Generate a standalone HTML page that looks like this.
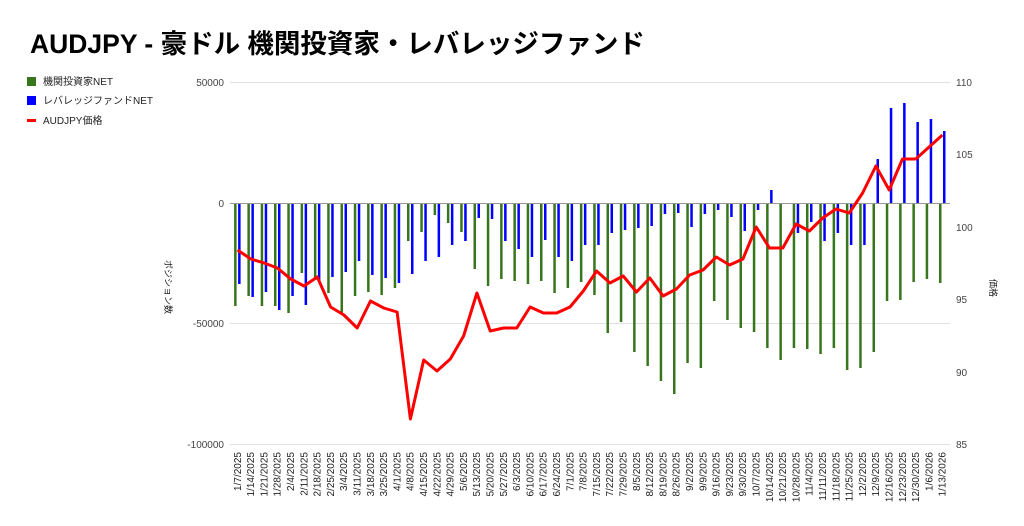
<!DOCTYPE html>
<html><head><meta charset="utf-8"><style>
body{margin:0;background:#fff;width:1024px;height:526px;overflow:hidden}
svg{display:block}
text{font-family:"Liberation Sans","Noto Sans CJK JP",sans-serif}
</style></head><body>
<svg id="s" width="1024" height="526" xmlns="http://www.w3.org/2000/svg">
<text x="30" y="53" font-size="26.5" font-weight="bold" fill="#000">AUDJPY - 豪ドル 機関投資家・レバレッジファンド</text>
<rect x="27" y="77" width="9" height="9" fill="#38761d"/><text x="43" y="85" font-size="10" fill="#222">機関投資家NET</text>
<rect x="27" y="96" width="9" height="9" fill="#0000ff"/><text x="43" y="104" font-size="10" fill="#222">レバレッジファンドNET</text>
<rect x="27" y="119" width="9" height="3" fill="#ff0000"/><text x="43" y="124" font-size="10" fill="#222">AUDJPY価格</text>
<g stroke="#e0e0e0" stroke-width="1">
<line x1="230" x2="950" y1="82.5" y2="82.5"/><line x1="230" x2="950" y1="323.5" y2="323.5"/><line x1="230" x2="950" y1="444.5" y2="444.5"/>
</g>
<g font-size="10" fill="#444" text-anchor="end">
<text x="224" y="86">50000</text><text x="224" y="207">0</text><text x="224" y="327">-50000</text><text x="224" y="448">-100000</text>
</g>
<g font-size="10" fill="#444">
<text x="956" y="86">110</text><text x="956" y="158">105</text><text x="956" y="231">100</text><text x="956" y="303">95</text><text x="956" y="376">90</text><text x="956" y="448">85</text>
</g>
<text transform="translate(165,287) rotate(90)" font-size="9" fill="#222" text-anchor="middle">ポジション数</text>
<text transform="translate(990,288) rotate(90)" font-size="9" fill="#222" text-anchor="middle">価格</text>
<g id="bars"></g>
<line x1="230" x2="950" y1="203.5" y2="203.5" stroke="#999" stroke-width="1"/>
<polyline id="red" fill="none" stroke="#ff0000" stroke-width="3" stroke-linejoin="round"/>
<g id="lab" font-size="10" fill="#222" text-anchor="end"></g>
</svg>
<script>
var g=[306,296,306,306,313,273,280,293,313,296,292,295,288,241,232,215,223,232,269,286,279,281,284,281,293,288,282,295,333,322,352,366,381,394,363,368,301,320,328,332,348,360,348,349,354,348,370,368,352,301,300,282,279,283];
var b=[284,297,292,310,296,305,280,277,272,261,275,278,283,274,261,257,245,241,218,219,241,249,257,240,257,261,245,245,233,230,228,226,214,213,227,214,210,217,231,210,190,203,233,222,241,233,245,245,159,108,103,122,119,131];
var r=[250,259,263,268,279,286,277,307,315,328,301,308,312,419,360,371,359,336,293,331,328,328,307,313,313,307,291,271,283,276,292,278,296,289,275,270,257,265,259,227,248,248,224,231,218,209,213,193,166,190,159,159,147,135];
var ns="http://www.w3.org/2000/svg",bars=document.getElementById("bars"),lab=document.getElementById("lab");
var d0=new Date(2025,0,7),pts=[];
for(var i=0;i<54;i++){
 var x=235.3+13.3*i;
 var l=document.createElementNS(ns,"rect");l.setAttribute("x",x-1.2);l.setAttribute("width",2.5);
 l.setAttribute("y",Math.min(g[i],203));l.setAttribute("height",Math.abs(g[i]-203));l.setAttribute("fill","#38761d");bars.appendChild(l);
 l=document.createElementNS(ns,"rect");l.setAttribute("x",x+2.8);l.setAttribute("width",2.5);
 l.setAttribute("y",Math.min(b[i],203));l.setAttribute("height",Math.abs(b[i]-203));l.setAttribute("fill","#0000ff");bars.appendChild(l);
 pts.push((x+2.2).toFixed(1)+","+r[i]);
 var d=new Date(d0.getTime()+i*7*864e5);
 var t=document.createElementNS(ns,"text");
 t.setAttribute("transform","translate("+(x+5.5)+",452) rotate(-90)");
 t.textContent=(d.getMonth()+1)+"/"+d.getDate()+"/"+d.getFullYear();lab.appendChild(t);
}
document.getElementById("red").setAttribute("points",pts.join(" "));
</script>
</body></html>
